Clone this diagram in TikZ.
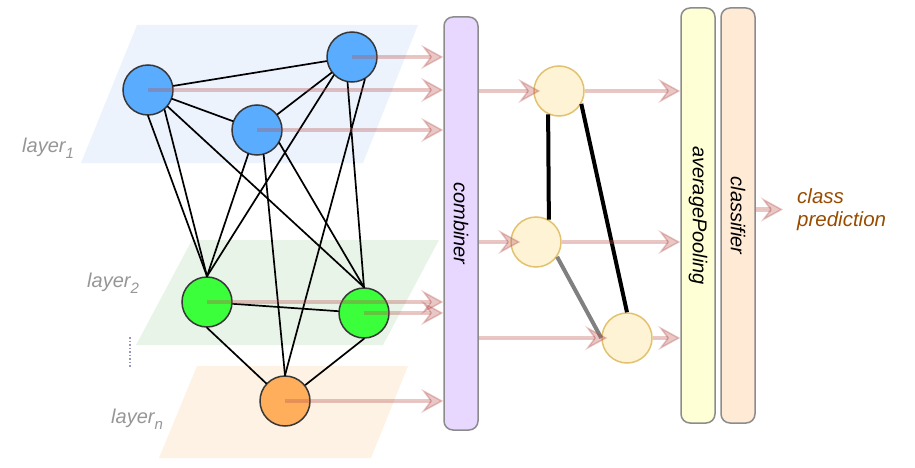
\documentclass[tikz,border=0pt]{standalone}
\usepackage{fontspec}
\setmainfont{Liberation Sans}
\usetikzlibrary{arrows.meta,positioning,calc}
\definecolor{planeBlue}{RGB}{236,243,253}
\definecolor{planeGreen}{RGB}{233,244,233}
\definecolor{planeOrange}{RGB}{253,242,228}
\definecolor{nodeBlue}{RGB}{90,172,255}
\definecolor{nodeGreen}{RGB}{58,255,58}
\definecolor{nodeOrange}{RGB}{255,174,92}
\definecolor{nodeRim}{RGB}{55,55,55}
\definecolor{hidFill}{RGB}{255,243,214}
\definecolor{hidRim}{RGB}{226,194,110}
\definecolor{flowRed}{RGB}{184,84,80}
\definecolor{boxRim}{RGB}{140,140,140}
\definecolor{combFill}{RGB}{232,216,255}
\definecolor{poolFill}{RGB}{255,255,214}
\definecolor{clfFill}{RGB}{255,234,214}
\definecolor{lblGray}{RGB}{150,150,150}
\definecolor{predBrown}{RGB}{153,76,0}
\tikzset{
  neuron/.style={circle, draw=nodeRim, line width=1.5pt, minimum size=50pt, inner sep=0pt},
  hidden/.style={circle, draw=hidRim, fill=hidFill, line width=1.5pt, minimum size=50pt, inner sep=0pt},
  edgeln/.style={line width=1.7pt, line cap=round},
  hidln/.style={line width=4pt},
  flowln/.style={-{Stealth[length=22pt,width=24pt,inset=9pt,line width=1.5pt]}, line width=4.5pt, draw=flowRed, fill=flowRed, opacity=0.33},
  stage/.style={draw=boxRim, line width=1.5pt, rounded corners=9pt, rotate=-90,
    minimum height=34pt, inner sep=0pt, font=\fontsize{20}{24}\selectfont\itshape},
  lbl/.style={text=lblGray, font=\fontsize{20}{24}\selectfont\itshape, inner sep=0pt, anchor=base west},
}
\newcommand{\lsub}[1]{\raisebox{-0.3em}{\fontsize{15}{15}\selectfont #1}}

\begin{document}
\begin{tikzpicture}[x=1pt,y=-1pt]
    \useasboundingbox (0,0) rectangle (915,468);
    % Layer planes
    \fill[planeBlue] (137,25) -- (418,25) -- (363,163) -- (81,163) -- cycle;
    \fill[planeGreen] (192,240) -- (439,240) -- (383,345) -- (136,345) -- cycle;
    \fill[planeOrange] (197,366) -- (408,366) -- (371,458) -- (159,458) -- cycle;
    \node[lbl] (l1) at (22,152) {layer\lsub{1}};
    \node[lbl] (l2) at (87,287) {layer\lsub{2}};
    \node[lbl] (ln) at (111,423) {layer\lsub{n}};
    \draw[draw={rgb,255:red,150;green,150;blue,190}, line width=1.5pt, dotted] (130,337) -- (130,368);
    % Graph nodes
    \node[neuron, fill=nodeBlue] (A) at (148,90) {};
    \node[neuron, fill=nodeBlue] (B) at (352,57) {};
    \node[neuron, fill=nodeBlue] (C) at (257,130) {};
    \node[neuron, fill=nodeGreen] (D) at (207,302) {};
    \node[neuron, fill=nodeGreen] (E) at (364,313) {};
    \node[neuron, fill=nodeOrange] (F) at (285,401) {};
    % Graph edges
    \draw[edgeln] (A) -- (B);
    \draw[edgeln] (A) -- (C);
    \draw[edgeln] (B) -- (C);
    \draw[edgeln] (A.south) -- (D.north);
    \draw[edgeln] (A.-50) -- (D.north);
    \draw[edgeln] (A.-40) -- (E.north);
    \draw[edgeln] (C.-110) -- (D.north);
    \draw[edgeln] (C.-75) -- (F.north);
    \draw[edgeln] (C.-30) -- (E.north);
    \draw[edgeln] (B.-135) -- (D.north);
    \draw[edgeln] (B.-60) -- (F.north);
    \draw[edgeln] (B.-100) -- (E.north);
    \draw[edgeln] (D) -- (E);
    \draw[edgeln] (D.south) -- (F);
    \draw[edgeln] (E.south) -- (F);
    % Stages (rotated, so south is the left side)
    \node[stage, fill=combFill, minimum width=413pt] (comb) at (461,223.5) {combiner};
    \node[stage, fill=poolFill, minimum width=415pt] (pool) at (698,215.5) {averagePooling};
    \node[stage, fill=clfFill, minimum width=415pt] (clf) at (738,215.5) {classifier};
    % Hidden graph
    \node[hidden] (G1) at (559,91) {};
    \node[hidden] (G2) at (536,242) {};
    \node[hidden] (G3) at (627,338) {};
    \draw[hidln] (G1.-115) -- (G2.60);
    \draw[hidln] (G1.-30) -- (G3.north);
    \draw[hidln, draw={rgb,255:red,128;green,128;blue,128}] (G2.-35) -- (G3.west);
    % Flows
    \draw[flowln] (B.center) -- (B.center -| comb.south);
    \draw[flowln] (A.center) -- (A.center -| comb.south);
    \draw[flowln] (C.center) -- (C.center -| comb.south);
    \draw[flowln] (D.center) -- (D.center -| comb.south);
    \draw[flowln] (E.center) -- (E.center -| comb.south);
    \draw[flowln] (F.center) -- (F.center -| comb.south);
    \draw[flowln, shorten >=-7pt] (G1.west -| comb.north) -- (G1.west);
    \draw[flowln, shorten >=-10pt] (G2.west -| comb.north) -- (G2.west);
    \draw[flowln, shorten >=-6pt] (G3.west -| comb.north) -- (G3.west);
    \draw[flowln] (G1.east) -- (G1.east -| pool.south);
    \draw[flowln] (G2.east) -- (G2.east -| pool.south);
    \draw[flowln] (G3.east) -- (G3.east -| pool.south);
    % Output
    \node[text=predBrown, font=\fontsize{20.5}{23.5}\selectfont\itshape, align=left,
      inner sep=0pt, anchor=north west] (pred) at (797,188) {class\\prediction};
    \draw[flowln] (clf.north |- pred.west) -- ([xshift=-14pt]pred.west);
\end{tikzpicture}
\end{document}
